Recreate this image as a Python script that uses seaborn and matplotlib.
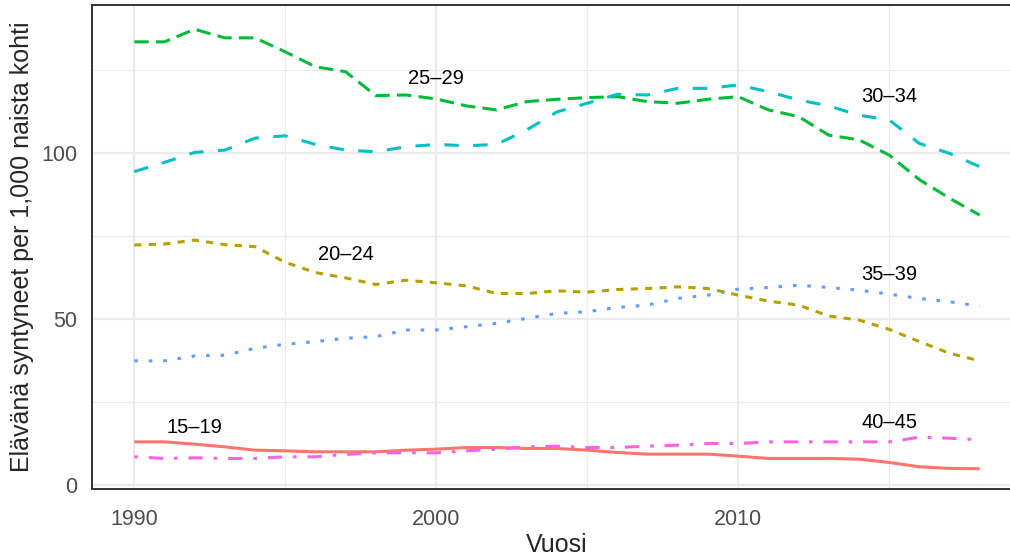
import pandas as pd
import numpy as np
import matplotlib
matplotlib.use('Agg')
import matplotlib.pyplot as plt
import seaborn as sns
from matplotlib.ticker import MultipleLocator

# Vuodet ja ikäryhmät
vuodet = list(range(1990, 2019))
ryhmat = ['15–19', '20–24', '25–29', '30–34', '35–39', '40–45']

# Elävänä syntyneet per 1 000 naista, luettu kuvasta
v15_19 = [13.0, 13.0, 12.3, 11.5, 10.5, 10.3, 10.0, 10.0, 10.0, 10.5, 10.8, 11.3, 11.3, 11.0, 11.0,
          10.5, 9.8, 9.3, 9.3, 9.3, 8.7, 8.0, 8.0, 8.0, 7.8, 6.8, 5.5, 5.0, 4.9]
v20_24 = [72.3, 72.6, 73.8, 72.4, 71.8, 67.1, 64.0, 62.4, 60.4, 61.7, 60.9, 60.0, 57.7, 57.7, 58.5,
          58.1, 58.9, 59.2, 59.7, 59.2, 57.2, 55.4, 54.2, 50.9, 49.7, 46.9, 43.2, 39.7, 37.4]
v25_29 = [133.5, 133.5, 137.3, 134.7, 134.7, 130.5, 126.0, 124.5, 117.3, 117.5, 116.3, 114.2, 113.0, 115.5, 116.2,
          116.7, 117.0, 115.5, 115.0, 116.2, 117.0, 113.0, 111.0, 105.4, 104.0, 99.4, 92.0, 86.4, 81.3]
v30_34 = [94.4, 97.2, 100.2, 100.9, 104.5, 105.2, 102.6, 100.9, 100.4, 101.9, 102.6, 102.2, 102.6, 107.0, 112.4,
          115.0, 117.7, 117.5, 119.5, 119.5, 120.5, 118.5, 116.0, 114.2, 111.4, 110.0, 102.9, 99.9, 95.9]
v35_39 = [37.4, 37.4, 38.9, 39.1, 41.2, 42.4, 43.2, 44.2, 44.7, 46.7, 46.7, 47.7, 48.7, 50.2, 51.7,
          52.2, 53.5, 54.2, 56.2, 57.2, 59.0, 59.5, 60.2, 59.5, 58.7, 57.5, 56.2, 55.2, 53.9]
v40_45 = [8.5, 8.0, 8.2, 8.0, 8.0, 8.5, 8.5, 9.2, 9.7, 9.7, 9.7, 10.3, 10.8, 11.5, 11.7,
          11.3, 11.3, 11.7, 12.0, 12.5, 12.5, 13.0, 13.0, 13.0, 13.0, 13.0, 14.4, 14.1, 13.6]

# Tekstien paikat
teksti_x = [1992, 1997, 2000, 2015, 2015, 2015]
teksti_y = [17.2, 69.3, 122.6, 117.0, 63.3, 18.7]

sarjat = [v15_19, v20_24, v25_29, v30_34, v35_39, v40_45]
df = pd.DataFrame({
    'Vuosi': vuodet * len(ryhmat),
    'arvo': np.concatenate(sarjat),
    'ika': np.repeat(ryhmat, len(vuodet)),
})

varit = ['#F8766D', '#B79F00', '#00BA38', '#00BFC4', '#619CFF', '#F564E3']
u = 2.6  # ggplotin viivatyypin yksikkö pisteinä
viivat = {
    '15–19': '',
    '20–24': (2 * u, 2 * u),
    '25–29': (4 * u, 2 * u),
    '30–34': (4 * u, 4 * u),
    '35–39': (1 * u, 3 * u),
    '40–45': (1 * u, 3 * u, 4 * u, 3 * u),
}

sns.set_style('white')
plt.rcParams['font.family'] = ['Liberation Sans', 'DejaVu Sans']
plt.rcParams['lines.scale_dashes'] = False

fig = plt.figure(figsize=(10.1, 5.57), dpi=100)
ax = fig.add_axes([92 / 1010, 1 - 489 / 557, 930 / 1010, 484 / 557])

sns.lineplot(data=df, x='Vuosi', y='arvo', hue='ika', style='ika',
             palette=dict(zip(ryhmat, varit)), dashes=viivat,
             linewidth=2.2, legend=False, ax=ax)
for line in ax.get_lines():
    line.set_dash_capstyle('butt')
    line.set_solid_capstyle('butt')

for nimi, tx, ty in zip(ryhmat, teksti_x, teksti_y):
    ax.text(tx, ty, nimi, ha='center', va='center', fontsize=14.5, color='black')

ax.set_xlim(1988.6, 2019.4)
ax.set_ylim(-1.2, 144.6)
ax.xaxis.set_major_locator(MultipleLocator(10))
ax.xaxis.set_minor_locator(MultipleLocator(5))
ax.yaxis.set_major_locator(MultipleLocator(50))
ax.yaxis.set_minor_locator(MultipleLocator(25))
ax.grid(which='major', color='#EBEBEB', linewidth=1.6)
ax.grid(which='minor', color='#EBEBEB', linewidth=0.8)
ax.set_axisbelow(True)
for s in ax.spines.values():
    s.set_color('#333333')
    s.set_linewidth(1.4)
ax.tick_params(axis='both', which='major', length=4.5, width=1.2, color='#333333',
               labelsize=15.5, labelcolor='#4D4D4D', pad=6)
ax.tick_params(axis='x', which='major', pad=10)
ax.tick_params(which='minor', length=0)
ax.set_xlabel('Vuosi', fontsize=18, labelpad=2)
ax.set_ylabel('Elävänä syntyneet per 1,000 naista kohti', fontsize=18, labelpad=5)

fig.savefig('out.png', dpi=100)
